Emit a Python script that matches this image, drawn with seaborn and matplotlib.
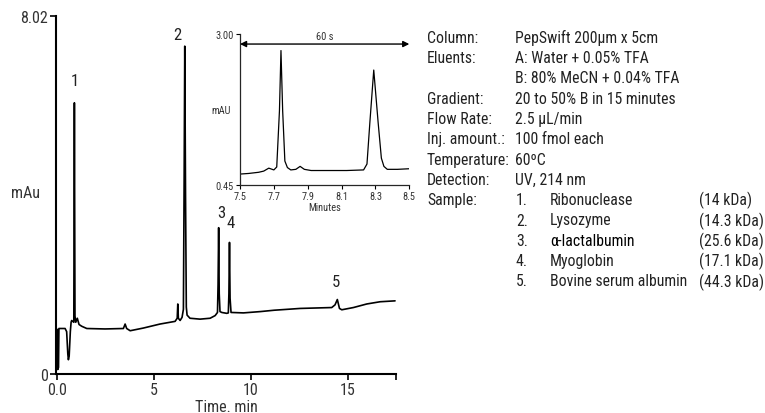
import matplotlib
matplotlib.use("Agg")
import matplotlib.pyplot as plt
import seaborn as sns
import pandas as pd
from matplotlib import font_manager

# ---------------- data ----------------
main_time = [0.00, 0.02, 0.06, 0.08, 0.40, 0.48, 0.54, 0.57, 0.61, 0.67, 0.71, 0.74, 0.85,
             0.88, 0.91, 0.95, 1.03, 1.12, 1.26, 1.52, 2.46, 3.41, 3.50, 3.58, 3.76,
             4.44, 5.30, 6.08, 6.19, 6.22, 6.25, 6.34, 6.44, 6.51, 6.55, 6.58, 6.62,
             6.66, 6.70, 6.85, 7.37, 7.89, 8.15, 8.27, 8.30, 8.33, 8.36, 8.40, 8.49,
             8.75, 8.83, 8.86, 8.89, 8.92, 8.97, 9.61, 10.50, 11.20, 12.54, 14.17,
             14.34, 14.46, 14.57, 14.69, 15.29, 15.98, 16.67, 17.44]
main_mau = [1.00, 0.10, 0.15, 1.02, 1.02, 0.95, 0.45, 0.32, 0.40, 0.95, 1.16, 1.20, 1.16,
            6.08, 1.30, 1.16, 1.25, 1.11, 1.07, 1.02, 1.01, 1.02, 1.12, 1.02, 0.97,
            1.03, 1.12, 1.18, 1.25, 1.57, 1.25, 1.20, 1.27, 1.45, 4.50, 7.35, 4.00,
            1.50, 1.32, 1.25, 1.23, 1.25, 1.31, 1.38, 2.00, 3.28, 1.80, 1.40, 1.38,
            1.36, 1.37, 1.80, 2.95, 1.70, 1.38, 1.37, 1.40, 1.43, 1.47, 1.49,
            1.55, 1.67, 1.47, 1.44, 1.49, 1.57, 1.62, 1.64]

inset_time = [7.50, 7.55, 7.58, 7.61, 7.64, 7.67, 7.70, 7.717, 7.733, 7.742, 7.752, 7.765,
              7.78, 7.80, 7.83, 7.855, 7.88, 7.92, 8.03, 8.13, 8.23, 8.25, 8.267, 8.29,
              8.316, 8.335, 8.35, 8.37, 8.43, 8.50]
inset_mau = [0.63, 0.64, 0.65, 0.66, 0.68, 0.73, 0.70, 0.75, 1.70, 2.72, 1.70, 0.85,
             0.74, 0.70, 0.71, 0.76, 0.71, 0.69, 0.69, 0.69, 0.70, 0.80, 1.50, 2.39,
             1.50, 0.90, 0.76, 0.71, 0.71, 0.72]

peak_labels = ["1", "2", "3", "4", "5"]
peak_label_t = [0.91, 6.20, 8.46, 8.95, 14.38]
peak_label_y = [6.58, 7.62, 3.63, 3.40, 2.07]

main_xticks = [0, 5, 10, 15, 17.5]
main_xticklabels = ["0.0", "5", "10", "15", ""]
main_yticks = [0, 8.02]
main_yticklabels = ["0", "8.02"]
inset_xticks = [7.5, 7.7, 7.9, 8.1, 8.3, 8.5]
inset_xticklabels = ["7.5", "7.7", "7.9", "8.1", "8.3", "8.5"]
inset_yticks = [0.45, 3.00]
inset_yticklabels = ["0.45", "3.00"]

cond_labels = ["Column:", "Eluents:", "", "Gradient:", "Flow Rate:", "Inj. amount.:",
               "Temperature:", "Detection:", "Sample:"]
cond_values = ["PepSwift 200µm x 5cm", "A: Water + 0.05% TFA", "B: 80% MeCN + 0.04% TFA",
               "20 to 50% B in 15 minutes", "2.5 µL/min", "100 fmol each", "60ºC",
               "UV, 214 nm"]
sample_nums = ["1.", "2.", "3.", "4.", "5."]
sample_names = ["Ribonuclease", "Lysozyme", "α-lactalbumin", "Myoglobin",
                "Bovine serum albumin"]
sample_mass = ["(14 kDa)", "(14.3 kDa)", "(25.6 kDa)", "(17.1 kDa)", "(44.3 kDa)"]

# ---------------- style ----------------
sns.set_style("ticks")
fonts = font_manager.fontManager.ttflist
names = {f.name for f in fonts}
narrow_name = None
for cand in ["Liberation Sans Narrow", "Roboto Condensed", "Open Sans Condensed",
             "Arial Narrow"]:
    if cand in names:
        narrow_name = cand
        break
if narrow_name:
    plt.rcParams["font.family"] = [narrow_name, "DejaVu Sans"]
    k = 1.0
else:
    plt.rcParams["font.family"] = ["Liberation Sans", "DejaVu Sans"]
    k = 0.88
plt.rcParams["text.color"] = "#222222"

W, H = 765, 414
fig = plt.figure(figsize=(W / 100, H / 100), dpi=100)

def fx(px):
    return px / W

def fy(py):
    return 1 - py / H

# ---------------- main axes ----------------
ax = fig.add_axes([fx(56), fy(375), fx(396.2) - fx(56), fy(17.3) - fy(375)])
df = pd.DataFrame({"t": main_time, "v": main_mau})
sns.lineplot(data=df, x="t", y="v", ax=ax, color="black", lw=1.2, sort=False,
             estimator=None)
ax.set_xlim(-0.07, 17.5)
ax.set_ylim(0, 8.02)
ax.set_xticks(main_xticks)
ax.set_xticklabels(main_xticklabels)
ax.set_yticks(main_yticks)
ax.set_yticklabels(main_yticklabels)
ax.tick_params(axis="both", direction="out", length=4.5, width=1.2,
               labelsize=11.5 * k, colors="black", labelcolor="#333333", pad=1.5)
for s in ["top", "right"]:
    ax.spines[s].set_visible(False)
for s in ["left", "bottom"]:
    ax.spines[s].set_linewidth(1.5)
    ax.spines[s].set_color("black")
ax.set_xlabel("Time. min", fontsize=11.5 * k, color="#333333", labelpad=1.2)
ax.set_ylabel("")
fig.text(fx(25), fy(194), "mAu", fontsize=11.5 * k, ha="center", va="center",
         color="#333333")

for lab, t, y in zip(peak_labels, peak_label_t, peak_label_y):
    ax.text(t, y, lab, fontsize=12 * k, ha="center", va="center", color="#222222")

# ---------------- inset ----------------
axi = fig.add_axes([fx(240), fy(185.7), fx(409.3) - fx(240), fy(35) - fy(185.7)])
dfi = pd.DataFrame({"t": inset_time, "v": inset_mau})
sns.lineplot(data=dfi, x="t", y="v", ax=axi, color="black", lw=0.9, sort=False,
             estimator=None)
axi.set_xlim(7.5, 8.5)
axi.set_ylim(0.45, 3.0)
axi.set_xticks(inset_xticks)
axi.set_xticklabels(inset_xticklabels)
axi.set_yticks(inset_yticks)
axi.set_yticklabels(inset_yticklabels)
axi.tick_params(axis="both", direction="out", length=3, width=0.8, labelsize=7.5 * k,
                colors="black", labelcolor="#333333", pad=1.5)
axi.patch.set_alpha(0)
for s in ["top", "right"]:
    axi.spines[s].set_visible(False)
for s in ["left", "bottom"]:
    axi.spines[s].set_linewidth(0.9)
axi.set_xlabel("Minutes", fontsize=7.5 * k, color="#333333", labelpad=1)
axi.set_ylabel("")
fig.text(fx(221), fy(111), "mAU", fontsize=7.5 * k, ha="center", va="center",
         color="#333333")
axi.annotate("", xy=(8.5, 2.83), xytext=(7.5, 2.83), xycoords="data",
             arrowprops=dict(arrowstyle="<|-|>", color="black", lw=1.0,
                             mutation_scale=9, shrinkA=0, shrinkB=0),
             annotation_clip=False)
axi.text(8.0, 2.97, "60 s", fontsize=7.5 * k, ha="center", va="center", color="#333333")

# ---------------- conditions text ----------------
row_y = [38.3 + 20.3 * i for i in range(13)]
fs = 11.3 * k
for i, lab in enumerate(cond_labels):
    if lab:
        fig.text(fx(427), fy(row_y[i]), lab, fontsize=fs, ha="left", va="center")
for i, val in enumerate(cond_values):
    fig.text(fx(515), fy(row_y[i]), val, fontsize=fs, ha="left", va="center")
for j in range(len(sample_nums)):
    r = 8 + j
    fig.text(fx(516), fy(row_y[r]), sample_nums[j], fontsize=fs, ha="left", va="center")
    fig.text(fx(550), fy(row_y[r]), sample_names[j], fontsize=fs, ha="left", va="center",
             color="#000000" if j == 2 else "#222222")
    fig.text(fx(699), fy(row_y[r]), sample_mass[j], fontsize=fs, ha="left", va="center")

fig.savefig("out.png", dpi=100)
